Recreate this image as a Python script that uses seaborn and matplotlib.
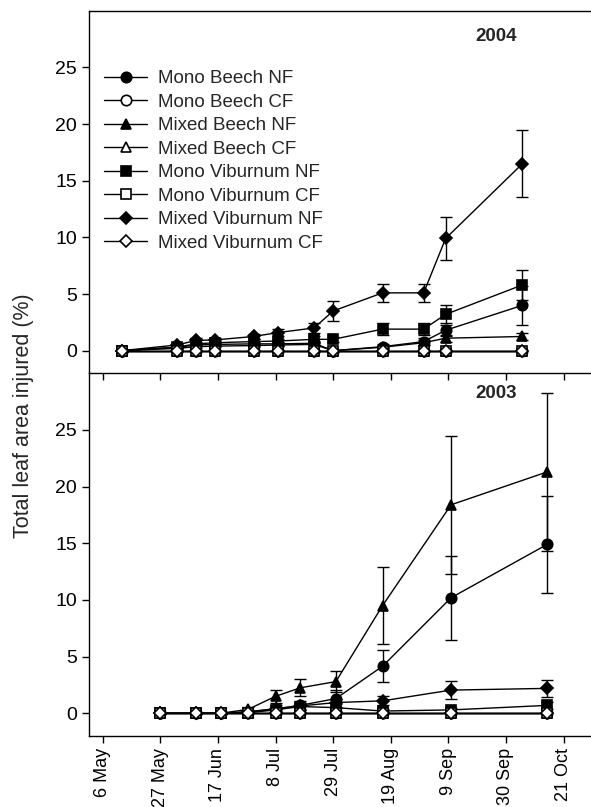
import pandas as pd
import matplotlib
matplotlib.use('Agg')
import matplotlib.pyplot as plt
import matplotlib.dates as mdates
import seaborn as sns

sns.set_style('ticks')
plt.rcParams['font.family'] = ['Liberation Sans', 'DejaVu Sans']

# 2004 season
dates_04 = ['2004-05-13', '2004-06-02', '2004-06-09', '2004-06-16', '2004-06-30', '2004-07-09',
            '2004-07-22', '2004-07-29', '2004-08-16', '2004-08-31', '2004-09-08', '2004-10-06']
mono_beech_nf_04 = [0, 0.3, 0.5, 0.55, 0.6, 0.6, 0.65, 0.0, 0.35, 0.8, 1.8, 4.0]
mono_beech_nf_04_err = [0, 0.1, 0.1, 0.15, 0.15, 0.2, 0.2, 0, 0.2, 0.3, 0.5, 1.7]
mixed_beech_nf_04 = [0, 0.2, 0.35, 0.4, 0.45, 0.5, 0.55, 0.0, 0.3, 0.7, 1.1, 1.25]
mixed_beech_nf_04_err = [0, 0.05, 0.1, 0.1, 0.1, 0.1, 0.1, 0, 0.1, 0.2, 0.3, 0.3]
mono_vib_nf_04 = [0, 0.3, 0.6, 0.7, 0.8, 0.85, 1.0, 1.0, 1.9, 1.9, 3.2, 5.8]
mono_vib_nf_04_err = [0, 0.1, 0.15, 0.15, 0.2, 0.2, 0.25, 0.2, 0.5, 0.5, 0.8, 1.35]
mixed_vib_nf_04 = [0, 0.5, 0.9, 0.95, 1.25, 1.6, 2.0, 3.5, 5.1, 5.1, 9.9, 16.5]
mixed_vib_nf_04_err = [0, 0.15, 0.2, 0.2, 0.25, 0.35, 0.4, 0.9, 0.8, 0.8, 1.9, 2.95]
cf_04 = [0] * 12

# 2003 season
dates_03 = ['2003-05-27', '2003-06-09', '2003-06-18', '2003-06-28', '2003-07-08', '2003-07-17',
            '2003-07-30', '2003-08-16', '2003-09-10', '2003-10-15']
mono_beech_nf_03 = [0, 0, 0, 0.1, 0.4, 0.7, 1.3, 4.15, 10.2, 14.9]
mono_beech_nf_03_err = [0, 0, 0, 0.1, 0.3, 0.4, 0.8, 1.4, 3.7, 4.3]
mixed_beech_nf_03 = [0, 0, 0, 0.35, 1.5, 2.25, 2.8, 9.5, 18.4, 21.3]
mixed_beech_nf_03_err = [0, 0, 0, 0.25, 0.6, 0.75, 0.95, 3.4, 6.1, 7.0]
mono_vib_nf_03 = [0, 0, 0, 0.05, 0.3, 0.6, 0.5, 0.2, 0.3, 0.7]
mono_vib_nf_03_err = [0, 0, 0, 0.05, 0.2, 0.3, 0.3, 0.15, 0.2, 0.3]
mixed_vib_nf_03 = [0, 0, 0, 0.15, 0.4, 0.65, 0.95, 1.1, 2.05, 2.2]
mixed_vib_nf_03_err = [0, 0, 0, 0.1, 0.2, 0.3, 0.35, 0.4, 0.8, 0.75]
cf_03 = [0] * 10

labels = ['Mono Beech NF', 'Mono Beech CF', 'Mixed Beech NF', 'Mixed Beech CF',
          'Mono Viburnum NF', 'Mono Viburnum CF', 'Mixed Viburnum NF', 'Mixed Viburnum CF']
markers = ['o', 'o', '^', '^', 's', 's', 'D', 'D']
msizes = [7.5, 7.5, 7.5, 7.5, 6.5, 6.5, 6.5, 6.5]
tick_dates = ['05-06', '05-27', '06-17', '07-08', '07-29', '08-19', '09-09', '09-30', '10-21']

FS = 13.5
fig = plt.figure(figsize=(5.91, 8.07), dpi=100)
ax1 = fig.add_axes([0.1506, 0.5374, 0.8494, 0.4493])
ax2 = fig.add_axes([0.1506, 0.0880, 0.8494, 0.4494])
ax2.patch.set_visible(False)


def draw(ax, year, dates, series, errs):
    x = pd.to_datetime(dates)
    for i, lab in enumerate(labels):
        y = series[i]
        nf = i % 2 == 0
        if nf:
            ax.errorbar(x, y, yerr=errs[i], fmt='none', ecolor='black',
                        elinewidth=1, capsize=4, capthick=1, zorder=2)
        sns.lineplot(x=x, y=y, ax=ax, color='black', lw=1, marker=markers[i],
                     markersize=msizes[i], markerfacecolor='black' if nf else 'white',
                     markeredgecolor='black', markeredgewidth=1.2, label=lab,
                     zorder=3 if nf else 4, legend=False)
    ax.set_xlim(pd.Timestamp(f'{year}-05-01'), pd.Timestamp(f'{year}-10-31'))
    ax.set_ylim(-2, 30)
    ax.set_yticks([0, 5, 10, 15, 20, 25])
    ax.set_xticks(pd.to_datetime([f'{year}-{d}' for d in tick_dates]))
    ax.xaxis.set_major_formatter(mdates.DateFormatter('%-d %b'))
    ax.tick_params(direction='out', length=5, width=1, colors='black')
    ax.tick_params(axis='y', labelsize=14)
    ax.tick_params(axis='x', labelsize=13)
    ax.set_xlabel('')
    ax.set_ylabel('')
    for s in ax.spines.values():
        s.set_color('black')
        s.set_linewidth(1)
    ax.spines['right'].set_visible(False)


draw(ax1, 2004, dates_04,
     [mono_beech_nf_04, cf_04, mixed_beech_nf_04, cf_04, mono_vib_nf_04, cf_04, mixed_vib_nf_04, cf_04],
     [mono_beech_nf_04_err, None, mixed_beech_nf_04_err, None, mono_vib_nf_04_err, None, mixed_vib_nf_04_err, None])
draw(ax2, 2003, dates_03,
     [mono_beech_nf_03, cf_03, mixed_beech_nf_03, cf_03, mono_vib_nf_03, cf_03, mixed_vib_nf_03, cf_03],
     [mono_beech_nf_03_err, None, mixed_beech_nf_03_err, None, mono_vib_nf_03_err, None, mixed_vib_nf_03_err, None])

ax1.tick_params(axis='x', labelbottom=False)
ax2.spines['top'].set_visible(False)
ax2.tick_params(axis='x', labelrotation=90, pad=3.5)

ax1.text(0.812, 0.928, '2004', transform=ax1.transAxes, ha='center', va='center',
         fontsize=FS, fontweight='bold')
ax2.text(0.812, 0.943, '2003', transform=ax2.transAxes, ha='center', va='center',
         fontsize=FS, fontweight='bold')

ax1.legend(loc='upper left', bbox_to_anchor=(0.03, 0.836), frameon=False, fontsize=FS,
           handlelength=2.3, handletextpad=0.6, labelspacing=0.34, borderpad=0,
           borderaxespad=0)

fig.text(0.039, 0.4845, 'Total leaf area injured (%)', rotation=90, ha='center',
         va='center', fontsize=15.5)

fig.savefig('out.png', dpi=100)
